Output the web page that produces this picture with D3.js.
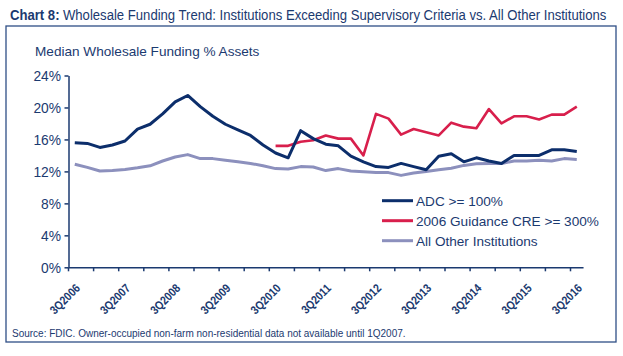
<!DOCTYPE html>
<html><head><meta charset="utf-8">
<script src="https://cdn.jsdelivr.net/npm/d3@7"></script>
<style>body{margin:0;background:#fff}svg{display:block}</style>
</head><body><svg id="c" width="623" height="356"></svg>
<script>
const quarters = ["3Q2006","4Q2006","1Q2007","2Q2007","3Q2007","4Q2007","1Q2008","2Q2008","3Q2008","4Q2008",
"1Q2009","2Q2009","3Q2009","4Q2009","1Q2010","2Q2010","3Q2010","4Q2010","1Q2011","2Q2011",
"3Q2011","4Q2011","1Q2012","2Q2012","3Q2012","4Q2012","1Q2013","2Q2013","3Q2013","4Q2013",
"1Q2014","2Q2014","3Q2014","4Q2014","1Q2015","2Q2015","3Q2015","4Q2015","1Q2016","2Q2016","3Q2016"];
const adc = [15.6,15.5,15.0,15.3,15.8,17.3,17.9,19.2,20.7,21.5,20.1,18.9,17.9,17.2,16.5,15.3,14.3,13.7,17.1,16.1,15.4,15.2,13.9,13.2,12.6,12.5,13.0,12.6,12.2,13.9,14.2,13.2,13.7,13.3,13.0,14.0,14.0,14.0,14.7,14.7,14.5];
const cre = [null,null,null,null,null,null,null,null,null,null,null,null,null,null,null,null,15.2,15.2,15.7,15.9,16.5,16.1,16.1,14.0,19.2,18.6,16.6,17.3,16.9,16.5,18.1,17.6,17.4,19.8,18.0,18.9,18.9,18.5,19.1,19.1,20.1];
const other = [12.9,12.5,12.05,12.1,12.25,12.45,12.7,13.3,13.8,14.1,13.6,13.6,13.4,13.2,13.0,12.7,12.35,12.3,12.6,12.55,12.1,12.35,12.05,11.95,11.85,11.85,11.5,11.8,12.0,12.2,12.4,12.75,12.95,13.0,13.0,13.3,13.3,13.4,13.3,13.6,13.5];
const yTicks = [0,4,8,12,16,20,24];
const seriesNames = ["ADC >= 100%","2006 Guidance CRE >= 300%","All Other Institutions"];
const seriesColors = ["#0c2e6b","#d81f4c","#8c90bd"];

const navy = "#1b3a70";
const svg = d3.select("#c");
const sans = "'Liberation Sans', Arial, sans-serif";

// frame
svg.append("rect").attr("x",6).attr("y",26).attr("width",610).attr("height",316)
  .attr("fill","none").attr("stroke","#2f4f86").attr("stroke-width",1.3);

// title (condensed via horizontal scaling)
const tg = svg.append("g");
const t1 = tg.append("text").attr("x",0).attr("y",0).attr("font-family",sans).attr("font-size",15.5)
  .attr("font-weight","bold").attr("fill",navy).text("Chart 8:");
const w1 = t1.node().getComputedTextLength();
const t2 = tg.append("text").attr("x",w1+4).attr("y",0).attr("font-family",sans).attr("font-size",15.5)
  .attr("fill",navy).text("Wholesale Funding Trend: Institutions Exceeding Supervisory Criteria vs. All Other Institutions");
const wTot = w1 + 4 + t2.node().getComputedTextLength();
tg.attr("transform",`translate(10,19.5) scale(${597/wTot},1)`);

// y title
svg.append("text").attr("x",35).attr("y",56).attr("font-family",sans).attr("font-size",13.6)
  .attr("fill",navy).text("Median Wholesale Funding % Assets");

const x0 = 68.5, step = 12.55;
const x = d3.scaleBand().domain(quarters).range([x0, x0 + step*quarters.length]).paddingInner(0).paddingOuter(0);
const y = d3.scaleLinear().domain([0,24]).range([267.3,75.5]);
const cx = q => x(q) + x.bandwidth()/2;

// y axis
const ya = svg.append("g").attr("transform",`translate(${x0},0)`)
  .call(d3.axisLeft(y).tickValues(yTicks).tickFormat(d=>d+"%").tickSize(4).tickSizeOuter(0));
ya.select(".domain").attr("stroke",navy).attr("stroke-width",1.5);
ya.selectAll(".tick line").attr("stroke",navy).attr("stroke-width",1.5);
ya.selectAll(".tick text").attr("font-family",sans).attr("font-size",13.8).attr("fill",navy).attr("x",-7.5).attr("dy","0.34em");

// x axis
const xa = svg.append("g").attr("transform",`translate(0,${y(0)})`)
  .call(d3.axisBottom(x).tickValues([]).tickSizeOuter(0));
xa.select(".domain").attr("stroke",navy).attr("stroke-width",1.5);
quarters.forEach((q,i)=>{
  if(i%2===0){
    xa.append("line").attr("x1",x(q)).attr("x2",x(q)).attr("y1",0).attr("y2",4)
      .attr("stroke",navy).attr("stroke-width",1.5);
  }
  if(i%4===0){
    svg.append("text").attr("transform",`translate(${cx(q)+6},289) rotate(-45) scale(0.86,1)`)
      .attr("text-anchor","end").attr("font-family",sans).attr("font-weight","bold")
      .attr("font-size",12).attr("fill",navy)
      .text(q);
  }
});

// lines
const data = [adc, cre, other];
[2,1,0].forEach(k=>{
  const line = d3.line().defined(d=>d!=null).x((d,i)=>cx(quarters[i])).y(d=>y(d));
  svg.append("path").attr("d",line(data[k])).attr("fill","none")
    .attr("stroke",seriesColors[k]).attr("stroke-width",k===1?2.6:3).attr("stroke-linejoin","round");
});

// legend
seriesNames.forEach((n,i)=>{
  const yy = 200.7 + i*20;
  svg.append("line").attr("x1",382).attr("x2",413).attr("y1",yy).attr("y2",yy)
    .attr("stroke",seriesColors[i]).attr("stroke-width",3);
  svg.append("text").attr("x",416).attr("y",yy+4.8).attr("font-family",sans).attr("font-size",13.6)
    .attr("fill",navy).text(n);
});

// source
svg.append("text").attr("x",12).attr("y",337).attr("font-family",sans).attr("font-size",10)
  .attr("fill",navy).text("Source: FDIC. Owner-occupied non-farm non-residential data not available until 1Q2007.");
</script></body></html>
